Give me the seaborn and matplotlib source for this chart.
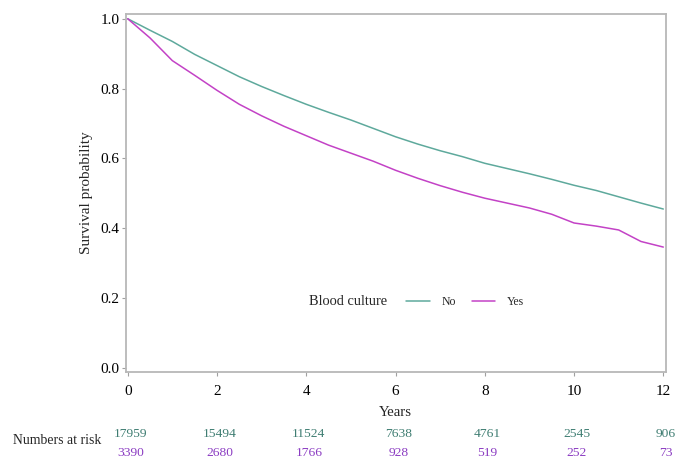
import pandas as pd
import matplotlib.pyplot as plt
import matplotlib.transforms as mtransforms
import seaborn as sns

# Kaplan-Meier estimates
years = [0, 0.5, 1, 1.5, 2, 2.5, 3, 3.5, 4, 4.5, 5, 5.5, 6, 6.5, 7, 7.5, 8,
         8.5, 9, 9.5, 10, 10.5, 11, 11.5, 12]
surv_no = [1.0, 0.967, 0.935, 0.898, 0.866, 0.834, 0.806, 0.780, 0.755, 0.732,
           0.710, 0.686, 0.662, 0.641, 0.622, 0.605, 0.586, 0.571, 0.556, 0.540,
           0.523, 0.508, 0.490, 0.472, 0.455]
surv_yes = [1.0, 0.945, 0.880, 0.838, 0.795, 0.755, 0.722, 0.692, 0.665, 0.638,
            0.615, 0.592, 0.566, 0.543, 0.522, 0.503, 0.486, 0.472, 0.458, 0.440,
            0.415, 0.406, 0.395, 0.362, 0.346]

risk_years = [0, 2, 4, 6, 8, 10, 12]
risk_no = [17959, 15494, 11524, 7638, 4761, 2545, 906]
risk_yes = [3390, 2680, 1766, 928, 519, 252, 73]

line_colors = {'No': '#5ea99c', 'Yes': '#c342c6'}
text_colors = {'No': '#3f7d72', 'Yes': '#8b3cc2'}

df = pd.concat([
    pd.DataFrame({'Years': years, 'Survival': surv_no, 'Blood culture': 'No'}),
    pd.DataFrame({'Years': years, 'Survival': surv_yes, 'Blood culture': 'Yes'}),
])

sns.set_style('ticks')
plt.rcParams['font.family'] = ['Liberation Serif', 'DejaVu Serif']

fig = plt.figure(figsize=(6.78, 4.68), dpi=100)
ax = fig.add_axes([0.1854, 0.205, 0.7965, 0.765])

sns.lineplot(data=df, x='Years', y='Survival', hue='Blood culture',
             palette=line_colors, linewidth=1.1, ax=ax)

ax.set_xlim(-0.045, 12.054)
ax.set_ylim(-0.012, 1.0135)
ax.set_xticks(risk_years)
ax.set_yticks([0.0, 0.2, 0.4, 0.6, 0.8, 1.0])
ax.set_yticklabels(['0.0', '0.2', '0.4', '0.6', '0.8', '1.0'])
ax.tick_params(axis='both', direction='out', length=3, width=0.8,
               color='#a0a0a0', labelsize=11, labelcolor='black')
ax.tick_params(axis='x', pad=6)
ax.tick_params(axis='y', pad=1.5)
for side in ['top', 'right', 'bottom', 'left']:
    ax.spines[side].set_visible(True)
    ax.spines[side].set_color('#b8b8b8')
    ax.spines[side].set_linewidth(1.3)

ax.set_ylabel('Survival probability', fontsize=11)
ax.yaxis.set_label_coords(-0.06, 0.5)
ax.set_xlabel('')

# legend with its title on the left
handles, labels = ax.get_legend_handles_labels()
ax.legend(handles, labels, ncol=2, frameon=False, fontsize=8.5,
          handlelength=2.0, handletextpad=1.0, columnspacing=1.3,
          loc='center left', bbox_to_anchor=(0.5, 0.196))
ax.text(0.34, 0.198, 'Blood culture', transform=ax.transAxes,
        fontsize=10.4, ha='left', va='center')

# numbers at risk table
trans = mtransforms.blended_transform_factory(ax.transData, fig.transFigure)
ax.text(6, 1 - 412 / 468, 'Years', transform=trans, ha='center', va='center',
        fontsize=10.7)
for x, n_no, n_yes in zip(risk_years, risk_no, risk_yes):
    ax.text(x + 0.06, 1 - 434 / 468, str(n_no), transform=trans, ha='center',
            va='center', fontsize=9.7, color=text_colors['No'])
    ax.text(x + 0.06, 1 - 453 / 468, str(n_yes), transform=trans, ha='center',
            va='center', fontsize=9.7, color=text_colors['Yes'])
fig.text(13 / 678, 1 - 441 / 468, 'Numbers at risk', ha='left', va='center',
         fontsize=9.9)

fig.savefig('out.png', dpi=100)
